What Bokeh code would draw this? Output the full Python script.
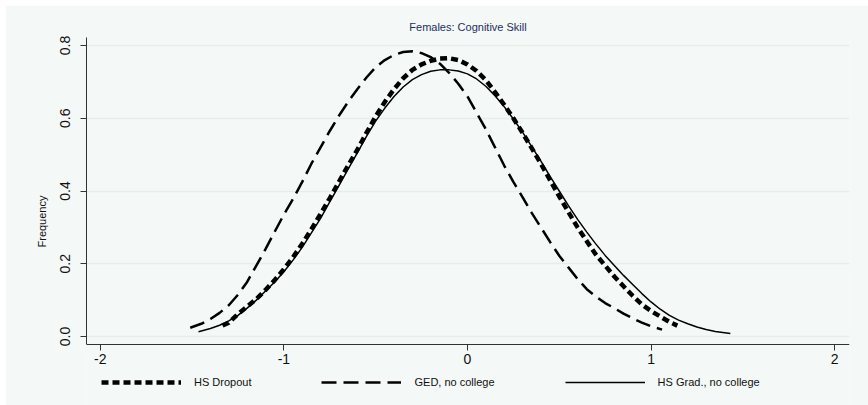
from bokeh.plotting import figure
from bokeh.models import Range1d, Legend, LegendItem, FixedTicker
from bokeh.embed import file_html
from bokeh.resources import INLINE

title_text = "Females: Cognitive Skill"
y_label = "Frequency"
x_ticks = [-2, -1, 0, 1, 2]
x_tick_labels = {-2: "-2", -1: "-1", 0: "0", 1: "1", 2: "2"}
y_ticks = [0.0, 0.2, 0.4, 0.6, 0.8]
y_tick_labels = {0.0: "0.0", 0.2: "0.2", 0.4: "0.4", 0.6: "0.6", 0.8: "0.8"}

series_names = ["HS Dropout", "GED, no college", "HS Grad., no college"]

dropout_x = [-1.334, -1.30, -1.25, -1.20, -1.15, -1.10, -1.05, -1.00, -0.95, -0.90,
             -0.85, -0.80, -0.75, -0.70, -0.65, -0.60, -0.55, -0.50, -0.45, -0.40,
             -0.35, -0.30, -0.25, -0.20, -0.15, -0.10, -0.05, 0.00, 0.05, 0.10,
             0.15, 0.20, 0.25, 0.30, 0.35, 0.40, 0.45, 0.50, 0.55, 0.60,
             0.65, 0.70, 0.75, 0.80, 0.85, 0.90, 0.95, 1.00, 1.05, 1.10, 1.143]
dropout_y = [0.030, 0.038, 0.062, 0.082, 0.103, 0.128, 0.155, 0.185, 0.218, 0.255,
             0.295, 0.337, 0.380, 0.425, 0.470, 0.513, 0.560, 0.605, 0.645, 0.680,
             0.710, 0.733, 0.748, 0.758, 0.764, 0.765, 0.760, 0.748, 0.730, 0.705,
             0.672, 0.637, 0.600, 0.560, 0.518, 0.475, 0.430, 0.385, 0.342, 0.300,
             0.262, 0.225, 0.195, 0.165, 0.138, 0.112, 0.088, 0.070, 0.055, 0.040, 0.030]

ged_x = [-1.51, -1.45, -1.40, -1.35, -1.30, -1.25, -1.20, -1.15, -1.10, -1.05,
         -1.00, -0.95, -0.90, -0.85, -0.80, -0.75, -0.70, -0.65, -0.60, -0.55,
         -0.50, -0.45, -0.40, -0.35, -0.30, -0.25, -0.20, -0.15, -0.10, -0.05,
         0.00, 0.05, 0.10, 0.15, 0.20, 0.25, 0.30, 0.35, 0.40, 0.45,
         0.50, 0.55, 0.60, 0.65, 0.70, 0.75, 0.80, 0.85, 0.90, 0.95, 1.00, 1.06]
ged_y = [0.024, 0.035, 0.048, 0.065, 0.086, 0.115, 0.150, 0.195, 0.240, 0.288,
         0.335, 0.378, 0.425, 0.475, 0.520, 0.565, 0.607, 0.645, 0.680, 0.712,
         0.740, 0.760, 0.774, 0.782, 0.784, 0.779, 0.768, 0.750, 0.725, 0.695,
         0.660, 0.615, 0.570, 0.520, 0.470, 0.425, 0.383, 0.340, 0.300, 0.260,
         0.222, 0.190, 0.158, 0.130, 0.110, 0.092, 0.078, 0.063, 0.050, 0.038, 0.028, 0.019]

grad_x = [-1.465, -1.40, -1.35, -1.30, -1.25, -1.20, -1.15, -1.10, -1.05, -1.00,
          -0.95, -0.90, -0.85, -0.80, -0.75, -0.70, -0.65, -0.60, -0.55, -0.50,
          -0.45, -0.40, -0.35, -0.30, -0.25, -0.20, -0.15, -0.10, -0.05, 0.00,
          0.05, 0.10, 0.15, 0.20, 0.25, 0.30, 0.35, 0.40, 0.45, 0.50,
          0.55, 0.60, 0.65, 0.70, 0.75, 0.80, 0.85, 0.90, 0.95, 1.00,
          1.05, 1.10, 1.15, 1.20, 1.25, 1.30, 1.35, 1.432]
grad_y = [0.013, 0.022, 0.031, 0.043, 0.058, 0.078, 0.100, 0.125, 0.150, 0.178,
          0.210, 0.245, 0.285, 0.325, 0.370, 0.415, 0.460, 0.505, 0.550, 0.592,
          0.628, 0.660, 0.686, 0.706, 0.720, 0.729, 0.733, 0.733, 0.730, 0.722,
          0.708, 0.688, 0.662, 0.632, 0.598, 0.562, 0.522, 0.482, 0.440, 0.400,
          0.360, 0.322, 0.287, 0.254, 0.223, 0.195, 0.168, 0.143, 0.118, 0.095,
          0.075, 0.058, 0.045, 0.035, 0.026, 0.019, 0.014, 0.008]

BG = "#f4f8f6"
FONT = "Liberation Sans"
Y_LO, Y_HI = -0.022, 0.822

p = figure(frame_width=763, frame_height=368, output_backend="svg", toolbar_location=None,
           x_range=Range1d(-2.075, 2.081), y_range=Range1d(-0.1897, Y_HI),
           min_border_left=81, min_border_right=19, min_border_top=32, min_border_bottom=0,
           background_fill_color=BG, border_fill_color=BG, outline_line_color=None,
           margin=(5, 0, 0, 5))

p.title.text = title_text
p.title.align = "center"
p.title.text_font = FONT
p.title.text_font_size = "11px"
p.title.text_font_style = "normal"
p.title.text_color = "#1e2f5c"

r_drop = p.line(dropout_x, dropout_y, line_color="black", line_width=4.5, line_dash="7 4",
                line_join="round")
r_ged = p.line(ged_x, ged_y, line_color="black", line_width=2.5, line_dash="15 7",
               line_join="round")
r_grad = p.line(grad_x, grad_y, line_color="black", line_width=1.5, line_join="round")

p.xgrid.visible = False
p.ygrid.grid_line_color = "#e6edf0"
p.ygrid.grid_line_width = 1.5
p.ygrid.ticker = FixedTicker(ticks=y_ticks)

p.xaxis.ticker = FixedTicker(ticks=x_ticks)
p.xaxis.major_label_overrides = x_tick_labels
p.xaxis.fixed_location = Y_LO
p.yaxis.bounds = (Y_LO, Y_HI)
p.yaxis.ticker = FixedTicker(ticks=y_ticks)
p.yaxis.major_label_overrides = y_tick_labels
p.yaxis.major_label_orientation = "vertical"
p.yaxis.axis_label = y_label
p.yaxis.axis_label_text_font = FONT
p.yaxis.axis_label_text_font_size = "11px"
p.yaxis.axis_label_text_font_style = "normal"
p.yaxis.axis_label_text_color = "#111111"
p.yaxis.axis_label_standoff = 10
for ax in (p.xaxis, p.yaxis):
    ax.axis_line_color = "#333333"
    ax.major_tick_line_color = "#333333"
    ax.major_tick_out = 6
    ax.major_tick_in = 0
    ax.minor_tick_line_color = None
    ax.major_label_text_font = FONT
    ax.major_label_text_font_size = "14px"
    ax.major_label_text_color = "#111111"
p.yaxis.major_label_standoff = 10
p.xaxis.major_label_standoff = 3

legend = Legend(items=[LegendItem(label=series_names[0], renderers=[r_drop]),
                       LegendItem(label=series_names[1], renderers=[r_ged]),
                       LegendItem(label=series_names[2], renderers=[r_grad])],
                orientation="horizontal", location=(15, 16),
                glyph_width=80, glyph_height=14, label_standoff=13, spacing=70,
                padding=2, margin=0, border_line_color=None, background_fill_color=BG,
                background_fill_alpha=1.0,
                label_text_font=FONT, label_text_font_size="11px", label_text_color="#111111")
p.add_layout(legend, "center")

open("out.html", "w").write(file_html(p, INLINE))
